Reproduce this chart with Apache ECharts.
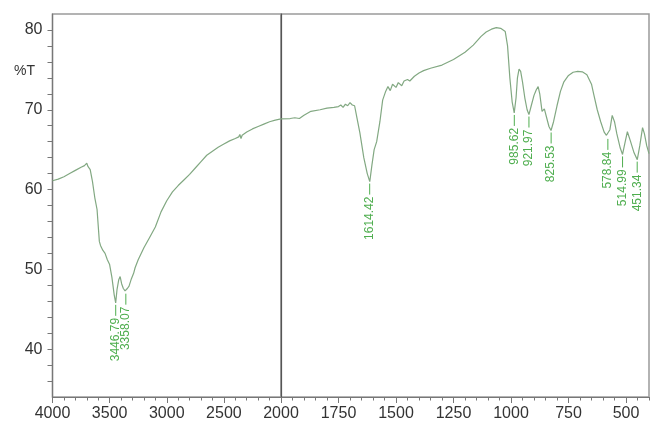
<!DOCTYPE html>
<html>
<head>
<meta charset="utf-8">
<script src="https://cdn.jsdelivr.net/npm/echarts@6/dist/echarts.min.js"></script>
<style>
html,body{margin:0;padding:0;background:#fff;}
#c{width:654px;height:424px;}
</style>
</head>
<body>
<div id="c"></div>
<script>
// ---- data (wavenumber cm-1, %T) ----
const leftWave = [4000,3950,3900,3850,3800,3750,3720,3700,3690,3680,3670,3650,3630,3610,3600,3590,3580,3560,3540,3520,3500,3480,3460,3447,3435,3420,3408,3395,3380,3365,3358,3345,3330,3310,3290,3277,3250,3200,3150,3100,3050,3000,2950,2900,2850,2800,2750,2700,2650,2600,2550,2500,2450,2400,2370,2360,2350,2340,2300,2250,2200,2150,2100,2050,2000];
const leftT    = [61.1,61.3,61.6,62.0,62.4,62.8,63.0,63.3,62.9,63.1,62.5,61.0,59.0,57.5,55.5,53.5,53.0,52.4,52.0,51.2,50.6,49.0,46.8,45.8,47.5,48.7,49.1,48.2,47.6,47.3,47.2,47.6,47.9,48.8,49.5,50.2,51.2,52.7,54.0,55.3,57.2,58.6,59.7,60.5,61.2,61.9,62.7,63.5,64.3,64.8,65.3,65.7,66.1,66.4,66.6,66.9,66.4,66.8,67.2,67.6,67.9,68.2,68.5,68.7,68.85];

const rightWave = [2000,1960,1940,1920,1900,1870,1830,1800,1770,1750,1740,1730,1720,1710,1700,1690,1680,1670,1657,1640,1625,1614,1605,1595,1584,1570,1558,1545,1535,1525,1515,1500,1490,1475,1465,1450,1440,1420,1400,1380,1350,1300,1250,1200,1164,1130,1108,1085,1064,1045,1025,1015,1005,995,986,978,972,965,958,950,940,930,922,912,900,890,882,875,865,855,845,835,826,815,800,785,770,750,730,710,690,670,650,640,625,610,595,585,579,570,560,550,540,525,515,505,494,480,465,451,440,428,420,410,400];
const rightT    = [68.85,68.9,69.0,68.9,69.3,69.8,70.0,70.2,70.3,70.4,70.6,70.3,70.7,70.5,70.9,70.6,70.5,69.0,67.1,64.0,62.0,61.0,63.0,65.0,66.0,68.5,71.2,72.3,72.9,72.4,73.2,72.8,73.4,73.0,73.6,73.8,73.6,74.2,74.6,74.9,75.2,75.6,76.3,77.2,78.1,79.2,79.75,80.1,80.3,80.2,79.8,78.0,74.0,71.0,69.6,71.5,74.0,75.1,74.8,73.5,71.5,70.0,69.4,70.5,71.8,72.5,72.9,72.0,69.8,70.1,69.0,67.9,67.4,68.5,70.5,72.3,73.5,74.3,74.7,74.8,74.75,74.4,73.2,71.9,70.0,68.5,67.2,66.8,66.6,67.5,69.3,68.5,67.0,65.2,64.4,65.8,67.25,66.0,64.6,63.75,65.5,67.75,67.0,65.5,64.5];

const peakWave = [3446.79,3358.07,1614.42,985.62,921.97,825.53,578.84,514.99,451.34];
const peakT    = [45.8,47.2,61.0,69.6,69.4,67.4,66.6,64.4,63.75];

const yLabels = [40,50,60,70,80];
const yTicks = [36,38,40,42,44,46,48,50,52,54,56,58,60,62,64,66,68,70,72,74,76,78,80];
const xRightLabels = [500,750,1000,1250,1500,1750];
const xRightMinor = [];
for (let v = 400; v <= 2000; v += 50) xRightMinor.push(v);

// ---- build ----
const zip = (a, b) => a.map((v, i) => [v, b[i]]);
const peaks = zip(peakWave, peakT);
const leftPeaks = peaks.filter(p => p[0] > 2000);
const rightPeaks = peaks.filter(p => p[0] <= 2000);

const curveColor = '#82a882';
const labelColor = '#4fae4f';
const axisColor = '#777';
const textColor = '#333';
const plain = v => String(v);

function peakRender(params, api) {
  const pt = api.coord([api.value(0), api.value(1)]);
  return {
    type: 'group',
    children: [
      { type: 'line', shape: { x1: pt[0], y1: pt[1] + 2, x2: pt[0], y2: pt[1] + 13 },
        style: { stroke: labelColor, lineWidth: 1 } },
      { type: 'text', x: pt[0], y: pt[1] + 15, rotation: Math.PI / 2,
        style: { text: api.value(0).toFixed(2), align: 'right', verticalAlign: 'middle',
                 fill: labelColor, font: '12px "Liberation Sans", Arial, sans-serif' } }
    ]
  };
}

const grids = [
  { left: 52.5, top: 14, width: 228.5, height: 383, show: true, borderColor: '#9a9a9a', borderWidth: 1.5 },
  { left: 281, top: 14, width: 368, height: 383, show: true, borderColor: '#9a9a9a', borderWidth: 1.5 }
];

const labelFont = { fontSize: 16, color: textColor, fontFamily: '"Liberation Sans", Arial, sans-serif', formatter: plain };

const option = {
  animation: false,
  backgroundColor: '#fff',
  grid: grids,
  xAxis: [
    { gridIndex: 0, type: 'value', position: 'bottom', min: 2000, max: 4000, interval: 500, inverse: true,
      axisLine: { show: true, lineStyle: { color: axisColor, width: 1.2 } },
      axisTick: { show: true, length: 6, lineStyle: { color: axisColor } },
      minorTick: { show: true, splitNumber: 5, length: 3.5, lineStyle: { color: axisColor } },
      axisLabel: Object.assign({ margin: 9, showMinLabel: true, showMaxLabel: true }, labelFont),
      splitLine: { show: false }, minorSplitLine: { show: false } },
    { gridIndex: 1, type: 'value', position: 'bottom', min: 400, max: 2000, inverse: true,
      axisLine: { show: true, lineStyle: { color: axisColor, width: 1.2 } },
      axisTick: { show: true, length: 6, customValues: xRightLabels, lineStyle: { color: axisColor } },
      axisLabel: Object.assign({ margin: 9, customValues: xRightLabels }, labelFont),
      splitLine: { show: false } },
    { gridIndex: 1, type: 'value', position: 'bottom', min: 400, max: 2000, inverse: true,
      axisLine: { show: false },
      axisTick: { show: true, length: 3.5, customValues: xRightMinor, lineStyle: { color: axisColor } },
      axisLabel: { show: false },
      splitLine: { show: false } }
  ],
  yAxis: [
    { gridIndex: 0, type: 'value', min: 34, max: 82,
      axisLine: { show: true, lineStyle: { color: axisColor, width: 1.2 } },
      axisTick: { show: true, length: 5, customValues: yTicks, lineStyle: { color: axisColor } },
      axisLabel: Object.assign({ margin: 10, customValues: yLabels }, labelFont),
      splitLine: { show: false } },
    { gridIndex: 1, type: 'value', min: 34, max: 82,
      axisLine: { show: true, lineStyle: { color: '#555', width: 1.2 } },
      axisTick: { show: false }, axisLabel: { show: false }, splitLine: { show: false } }
  ],
  graphic: [
    { type: 'text', left: 14, top: 64,
      style: { text: '%T', fill: textColor, font: '14px "Liberation Sans", Arial, sans-serif' } }
  ],
  series: [
    { type: 'line', xAxisIndex: 0, yAxisIndex: 0, data: zip(leftWave, leftT), showSymbol: false,
      lineStyle: { color: curveColor, width: 1.2 }, silent: true },
    { type: 'line', xAxisIndex: 1, yAxisIndex: 1, data: zip(rightWave, rightT), showSymbol: false,
      lineStyle: { color: curveColor, width: 1.2 }, silent: true },
    { type: 'custom', xAxisIndex: 0, yAxisIndex: 0, data: leftPeaks, renderItem: peakRender, silent: true },
    { type: 'custom', xAxisIndex: 1, yAxisIndex: 1, data: rightPeaks, renderItem: peakRender, silent: true }
  ]
};

const chart = echarts.init(document.getElementById('c'), null, { renderer: 'canvas' });
chart.setOption(option);
</script>
</body>
</html>
